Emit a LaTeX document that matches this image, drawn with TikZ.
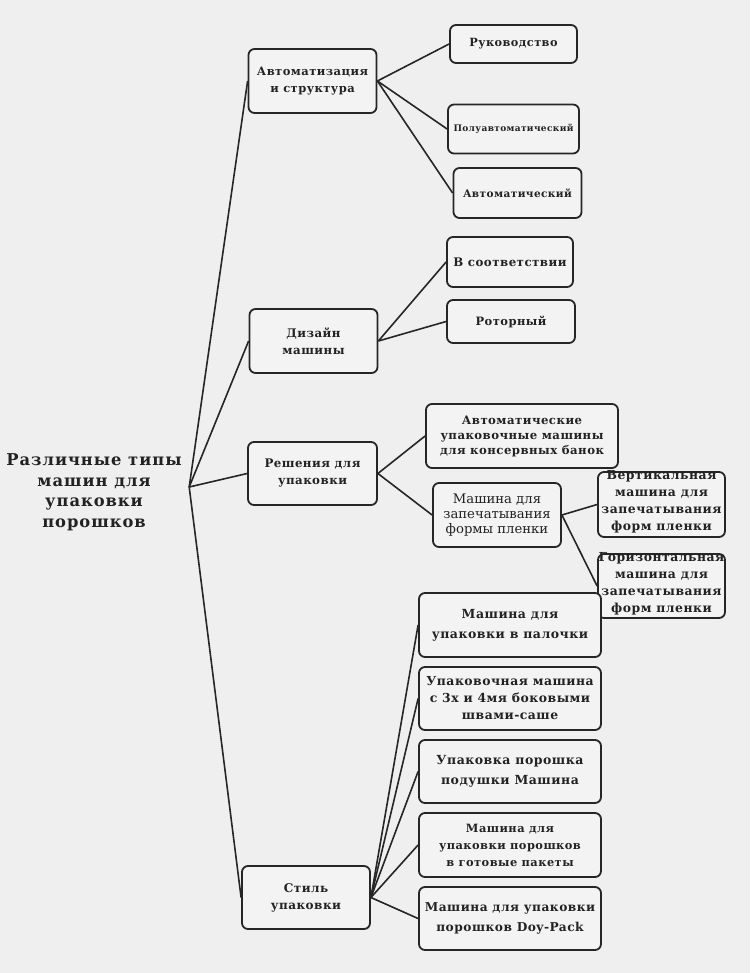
\documentclass[tikz,border=0pt]{standalone}
\usepackage{fontspec}
\setmainfont{DejaVu Serif}
\newfontfamily\lsfont[LetterSpace=4]{DejaVu Serif}
\newfontfamily\rootfont[LetterSpace=6]{DejaVu Serif}
\definecolor{bgc}{HTML}{EFEFEF}
\definecolor{boxc}{HTML}{F3F3F3}
\definecolor{edgec}{HTML}{262626}
\definecolor{txtc}{HTML}{222222}
\tikzset{
  box/.style={draw=edgec, fill=boxc, line width=1.8pt, rounded corners=6pt,
    align=center, inner sep=0pt, text=txtc},
  link/.style={draw=edgec, line width=1.6pt},
  bx/.style 2 args={font=\lsfont\bfseries\fontsize{#1}{#2}\selectfont},
  rg/.style 2 args={font=\fontsize{#1}{#2}\selectfont},
  lbl/.style={text=txtc, align=center, inner sep=0pt},
}
\begin{document}
\begin{tikzpicture}[x=1pt,y=-1pt]
\useasboundingbox (0,0) rectangle (750,973);
\fill[bgc] (0,0) rectangle (750,973);

\node[lbl, font=\rootfont\bfseries\fontsize{16.3}{20.5}\selectfont, minimum width=190pt] (root) at (94,487)
  {\rule{0pt}{22pt}Различные типы\\машин для\\упаковки\\порошков};

% level 1
\node[box, bx={11.5}{17}, minimum width=128pt, minimum height=64pt] (b1) at (312.5,81) {Автоматизация\\и структура};
\node[box, bx={11.8}{17}, minimum width=128pt, minimum height=64pt] (b2) at (313.5,341) {Дизайн\\машины};
\node[box, bx={11.8}{17}, minimum width=129pt, minimum height=63pt] (b3) at (312.5,473.5) {Решения для\\упаковки};
\node[box, bx={12}{17}, minimum width=128pt, minimum height=63pt] (b4) at (306,897.5) {Стиль\\упаковки};

% children of b1
\node[box, bx={11.3}{16}, minimum width=127pt, minimum height=38pt] (c11) at (513.5,44) {Руководство};
\node[box, bx={9}{12}, minimum width=131pt, minimum height=49pt] (c12) at (513.5,129) {Полуавтоматический};
\node[box, bx={10.5}{16}, minimum width=128pt, minimum height=50pt] (c13) at (517.5,193) {Автоматический};

% children of b2
\node[box, bx={11.8}{16}, minimum width=126pt, minimum height=50pt] (c21) at (510,262) {В соответствии};
\node[box, bx={11.5}{16}, minimum width=128pt, minimum height=43pt] (c22) at (511,321.5) {Роторный};

% children of b3
\node[box, bx={11.7}{15}, minimum width=192pt, minimum height=64pt] (c31) at (522,436) {Автоматические\\упаковочные машины\\для консервных банок};
\node[box, rg={13.2}{15}, minimum width=128pt, minimum height=64pt] (c32) at (497,515) {Машина для\\запечатывания\\формы пленки};
\node[box, minimum width=127pt, minimum height=65pt] (c321) at (661.5,504.5) {};
\node[lbl, bx={12.4}{17}] at (661.5,502) {Вертикальная\\машина для\\запечатывания\\форм пленки};
\node[box, minimum width=127pt, minimum height=64pt] (c322) at (661.5,586) {};
\node[lbl, bx={12.4}{17}] at (661.5,584) {Горизонтальная\\машина для\\запечатывания\\форм пленки};

% children of b4
\node[box, bx={12.5}{20}, minimum width=182pt, minimum height=64pt] (c41) at (510,625) {Машина для\\упаковки в палочки};
\node[box, bx={12.4}{17}, minimum width=182pt, minimum height=63pt] (c42) at (510,698.5) {Упаковочная машина\\с 3х и 4мя боковыми\\швами-саше};
\node[box, bx={12.5}{20}, minimum width=182pt, minimum height=63pt] (c43) at (510,771.5) {Упаковка порошка\\подушки Машина};
\node[box, bx={11.4}{17}, minimum width=182pt, minimum height=64pt] (c44) at (510,845) {Машина для\\упаковки порошков\\в готовые пакеты};
\node[box, bx={12.2}{20}, minimum width=182pt, minimum height=63pt] (c45) at (510,918.5) {Машина для упаковки\\порошков Doy-Pack};

% connectors
\foreach \b in {b1,b2,b3,b4} \draw[link] (root.east) -- (\b.west);
\foreach \c in {c11,c12,c13} \draw[link] (b1.east) -- (\c.west);
\foreach \c in {c21,c22} \draw[link] (b2.east) -- (\c.west);
\foreach \c in {c31,c32} \draw[link] (b3.east) -- (\c.west);
\foreach \c in {c321,c322} \draw[link] (c32.east) -- (\c.west);
\foreach \c in {c41,c42,c43,c44,c45} \draw[link] (b4.east) -- (\c.west);
\end{tikzpicture}
\end{document}
